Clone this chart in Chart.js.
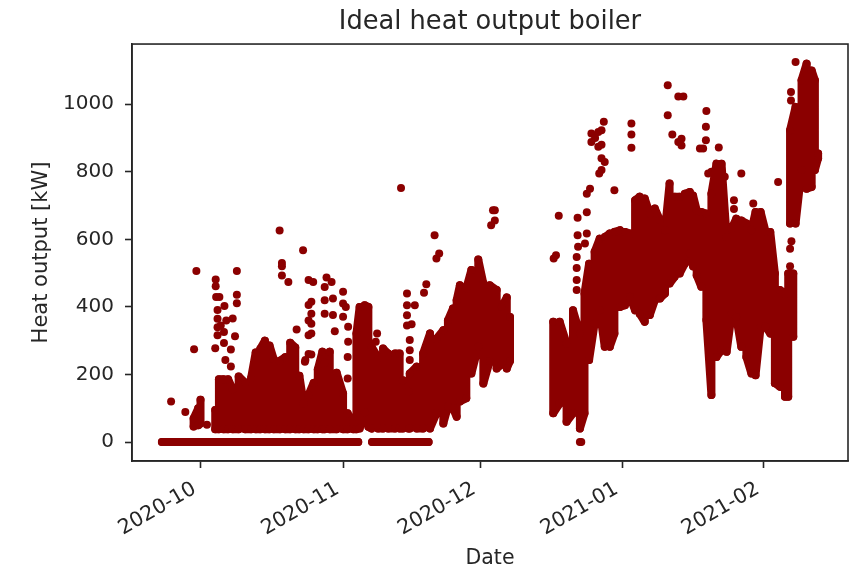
<!DOCTYPE html>
<html>
<head>
<meta charset="utf-8">
<title>Ideal heat output boiler</title>
<script src="https://cdn.jsdelivr.net/npm/chart.js@4/dist/chart.umd.min.js"></script>
<style>
    html, body { margin: 0; padding: 0; background: #fff; }
    canvas { display: block; filter: blur(0.6px); }
</style>
</head>
<body>
<canvas id="heatChart" width="859" height="569"></canvas>
<script>
// x values are days after 2020-10-01
const tickDays = [0, 31.1, 60.8, 91.8, 122.5];
const tickLabels = ['2020-10', '2020-11', '2020-12', '2021-01', '2021-02'];
const yTicks = [0, 200, 400, 600, 800, 1000];

// the boiler sat at zero for long stretches in autumn
const zeroDays = [-8.4, -5, -2, 1, 5, 10, 15, 20, 25, 30, 34.3, null, 37.3, 40, 44, 49.6];
const zeroHeat = [0, 0, 0, 0, 0, 0, 0, 0, 0, 0, 0, null, 0, 0, 0, 0];

const bandDays = [-1.5, -0.5, 0, null,
    3.2, 4, 5, 6, 7, 8.3, 9.7, 11, 12, 13, 14, 15, 15.9, 17.3, 18.4, 19.5, 20.6, 21.5, 22.4, 23.5, 24.6, 25.5, 26.5, 27, 28.1, 29.6, 31, 32, 33.2, 33.9,
    34.6, 35.7, 36.5, 37.2, 38.6, 39.7, 40.8, 42.3, 43.3, 44, 45.2, 45.5, 47, 48.4, 49.9, 51.3, 52.8, 53.8, 54.9, 55.7, 56.4, 57.8, 58.9, 60.4, 61.5, 62.9, 64.4, 65.5, 66.6, 67.3, null,
    76.7, 78.1, 79.6, 81, 82.5, 83.5, 84.5, 85.7, 86.8, 87.9, 89, 90, 91.2, 92.3, 93.4, 94.5, 95.5, 96.6, 97.7, 98.8, 99.9, 101, 102, 103.1, 104.2, 105.3, 106.4, 107.1, 107.9, 108.9, 110,
    111.1, 112.2, 113.3, 114.4, 115.5, 116.5, 117.6, 118.7, 119.8, 120.7, 121.8, 122.9, 123.9, 124.9, 126, 127.1, 127.8, 128.9, null,
    128.2, 129.4, 130.7, 131.8, 132.9, 133.6, 134.3];
const bandHigh = [70, 100, 125, null,
    95, 186, 186, 186, 156, 194, 176, 190, 265, 276, 300, 286, 246, 241, 251, 294, 280, 196, 115, 140, 175, 215, 267, 235, 267, 205, 144, 85, 56, 321,
    400, 405, 400, 282, 250, 277, 262, 262, 262, 183, 150, 203, 223, 262, 321, 306, 331, 360, 395, 420, 464, 455, 509, 540, 470, 464, 450, 400, 428, 370, null,
    356, 356, 292, 390, 321, 440, 528, 563, 602, 607, 617, 622, 627, 622, 617, 716, 726, 721, 676, 691, 657, 627, 765, 726, 726, 735, 740, 730, 686, 681, 676,
    735, 824, 824, 607, 632, 661, 656, 647, 627, 681, 681, 622, 622, 499, 450, 440, 499, 499, null,
    923, 992, 1071, 1120, 1100, 1071, 854];
const bandLow = [46, 50, 55, null,
    38, 38, 38, 38, 38, 38, 38, 38, 38, 38, 38, 38, 38, 38, 38, 38, 38, 38, 38, 38, 38, 38, 38, 38, 38, 38, 38, 38, 38, 38,
    40, 88, 45, 40, 40, 40, 40, 40, 40, 40, 40, 40, 40, 40, 40, 85, 55, 105, 100, 75, 120, 130, 203, 282, 173, 240, 218, 230, 218, 240, null,
    85, 114, 60, 85, 40, 85, 243, 351, 390, 282, 282, 321, 400, 405, 430, 390, 380, 356, 376, 420, 425, 440, 469, 489, 499, 528, 558, 520, 494, 460, 361,
    139, 252, 272, 267, 380, 370, 282, 252, 203, 198, 341, 341, 321, 174, 164, 134, 134, 312, null,
    647, 647, 805, 750, 755, 805, 840];

// scattered points around the cloud
const outlierDays = [-6.4, -3.3, 1.4, -1.4, -0.9, 7.9, 7.9, 7.9, 3.3, 3.3, 3.4, 4.1, 3.7, 3.7, 3.7, 3.7, 4.4, 5.2, 7, 5.6, 7.5, 5.1, 5.1, 3.2, 6.6, 5.4, 6.6,
    17.2, 17.7, 17.7, 17.7, 19.1, 20.9, 22.8, 23.5, 22.3, 23.5, 23.5, 23.5, 23.5, 24.5, 27.4, 28.5, 27, 27, 27, 28.8, 28.8, 31, 31, 31, 31.6, 32.1, 32.1, 24.1, 24.1, 24.1, 24.1, 29.2, 32, 32, 22.7, 24.1,
    43.6, 63.6, 64, 64, 63.2, 50.9, 51.9, 51.3, 49.1, 48.6, 44.9, 44.9, 44.9, 44.9, 46.6, 45.9, 45.5, 45.5, 45.5, 38.4, 38.1,
    82.5, 82.8, 81.8, 81.8, 81.8, 81.8, 82, 82, 83.6, 82.1, 84, 84, 84, 84.7, 77.9, 77.3, 76.8,
    87.7, 85, 85, 86.5, 86.5, 85.8, 87.2, 87.2, 87.2, 87.2, 86.7, 87.9, 90, 93.7, 93.7, 93.7, 101.6, 103.9, 105, 101.6, 102.6, 104.6, 104.6, 103.9, 108.6,
    129.4, 125.6, 117.6, 120.2, 116, 116, 110, 109.9, 109.9, 109.3, 112.7, 110.4, 111.1, 114, 111.6, 128.4, 128.4, 128.5, 128.2, 128.2];
const outlierHeat = [120, 89, 51, 275, 506, 506, 436, 411, 481, 461, 429, 429, 391, 365, 340, 316, 345, 403, 366, 360, 313, 326, 293, 278, 274, 243, 224,
    626, 530, 520, 493, 474, 333, 243, 261, 568, 480, 406, 360, 316, 474, 487, 474, 459, 420, 380, 425, 376, 445, 410, 371, 400, 341, 297, 415, 380, 350, 321, 328, 252, 188, 238, 259,
    752, 686, 686, 656, 642, 612, 558, 543, 467, 442, 440, 405, 375, 345, 405, 349, 302, 272, 243, 321, 297,
    0, 0, 548, 515, 480, 450, 664, 612, 588, 578, 735, 680, 617, 750, 670, 553, 543,
    948, 913, 888, 918, 874, 900, 923, 880, 840, 805, 795, 829, 745, 943, 910, 871, 1056, 1023, 1023, 967, 910, 898, 878, 888, 869,
    1125, 770, 795, 706, 716, 690, 980, 933, 893, 869, 872, 795, 800, 785, 730, 1036, 1011, 594, 572, 520];

const darkRed = '#8b0000';
const inkColor = '#262626';

function toPoints(xs, ys) {
    return xs.map((x, i) => ({ x: x, y: ys[i] }));
}

// walk up one column and down the next, the line closes the cloud between them
function bandPoints() {
    const pts = [];
    let up = true;
    bandDays.forEach((d, i) => {
        if (d === null) {
            pts.push({ x: bandDays[i - 1], y: null });
            return;
        }
        const first = up ? bandLow[i] : bandHigh[i];
        const second = up ? bandHigh[i] : bandLow[i];
        pts.push({ x: d, y: first }, { x: d, y: second });
        up = !up;
    });
    return pts;
}

const frame = {
    id: 'frame',
    afterDatasetsDraw(chart) {
        const { ctx, chartArea: a } = chart;
        ctx.save();
        ctx.strokeStyle = inkColor;
        ctx.lineWidth = 1.6;
        ctx.strokeRect(a.left, a.top, a.right - a.left, a.bottom - a.top);
        ctx.restore();
    }
};

new Chart(document.getElementById('heatChart').getContext('2d'), {
    type: 'scatter',
    data: {
        datasets: [
            { label: 'zero', data: toPoints(zeroDays, zeroHeat), showLine: true, borderWidth: 8 },
            { label: 'band', data: bandPoints(), showLine: true, borderWidth: 8 },
            { label: 'heat', data: toPoints(outlierDays, outlierHeat) }
        ].map(ds => ({
            ...ds,
            borderColor: darkRed,
            backgroundColor: darkRed,
            pointRadius: 4,
            pointBorderWidth: 0,
            borderCapStyle: 'round',
            borderJoinStyle: 'round',
            spanGaps: false
        }))
    },
    options: {
        responsive: false,
        animation: false,
        layout: { autoPadding: false, padding: { left: 0, right: 11, top: 0, bottom: 0 } },
        plugins: {
            legend: { display: false },
            tooltip: { enabled: false },
            title: {
                display: true,
                text: 'Ideal heat output boiler',
                fullSize: false,
                color: inkColor,
                font: { family: 'DejaVu Sans', size: 25.7, weight: 'normal', lineHeight: 1.2 },
                padding: { top: 6.6, bottom: 6.6 }
            }
        },
        scales: {
            x: {
                type: 'linear',
                min: -14.9,
                max: 140.8,
                afterFit: scale => { scale.height = 108; },
                afterBuildTicks: scale => { scale.ticks = tickDays.map(v => ({ value: v })); },
                grid: { drawOnChartArea: false, tickLength: 7, tickColor: inkColor, tickWidth: 1.6 },
                border: { color: inkColor, width: 1.6 },
                ticks: {
                    autoSkip: false,
                    maxRotation: 30,
                    minRotation: 30,
                    padding: 9,
                    labelOffset: -6,
                    color: inkColor,
                    font: { family: 'DejaVu Sans', size: 20.5 },
                    callback: value => tickLabels[tickDays.indexOf(value)]
                },
                title: {
                    display: true,
                    text: 'Date',
                    color: inkColor,
                    font: { family: 'DejaVu Sans', size: 20.5, lineHeight: 1 },
                    padding: 0
                }
            },
            y: {
                min: -56,
                max: 1178,
                afterFit: scale => { scale.width = 132; },
                afterBuildTicks: scale => { scale.ticks = yTicks.map(v => ({ value: v })); },
                grid: { drawOnChartArea: false, tickLength: 7, tickColor: inkColor, tickWidth: 1.6 },
                border: { color: inkColor, width: 1.6 },
                ticks: {
                    padding: 11,
                    color: inkColor,
                    font: { family: 'DejaVu Sans', size: 20 },
                    callback: value => String(value)
                },
                title: {
                    display: true,
                    text: 'Heat output [kW]',
                    color: inkColor,
                    font: { family: 'DejaVu Sans', size: 21, lineHeight: 1 },
                    padding: { top: 31, bottom: 0 }
                }
            }
        }
    },
    plugins: [frame]
});
</script>
</body>
</html>
